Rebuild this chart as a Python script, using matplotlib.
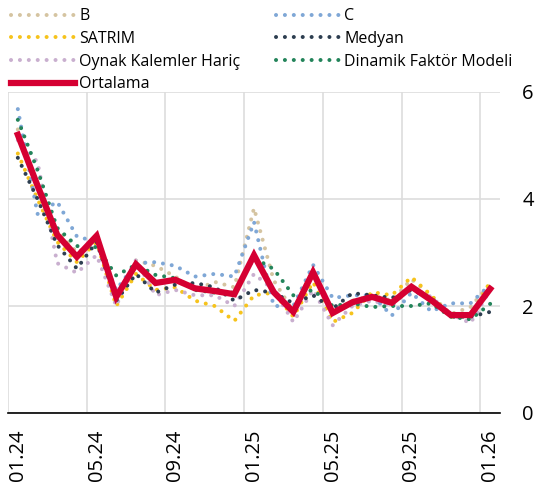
import numpy as np
import matplotlib.pyplot as plt
from matplotlib.lines import Line2D

plt.rcParams['font.family'] = ['Open Sans', 'DejaVu Sans']

# monthly data, 01.24 - 01.26
months = ['01.24', '02.24', '03.24', '04.24', '05.24', '06.24', '07.24', '08.24',
          '09.24', '10.24', '11.24', '12.24', '01.25', '02.25', '03.25', '04.25',
          '05.25', '06.25', '07.25', '08.25', '09.25', '10.25', '11.25', '12.25', '01.26']

b_vals = [5.30, 4.20, 3.45, 3.00, 3.20, 2.10, 2.85, 2.75, 2.55, 2.30, 2.45, 2.35, 3.83,
          2.48, 1.90, 2.60, 1.90, 2.10, 2.20, 2.10, 2.50, 2.20, 1.85, 1.98, 2.42]
c_vals = [5.68, 3.72, 3.95, 3.30, 3.20, 2.30, 2.80, 2.82, 2.75, 2.55, 2.60, 2.55, 3.57,
          2.00, 2.00, 2.77, 2.15, 2.20, 2.20, 1.82, 2.25, 1.90, 2.05, 2.05, 2.40]
satrim_vals = [4.85, 4.00, 3.20, 2.82, 3.20, 2.00, 2.60, 2.30, 2.35, 2.10, 2.00, 1.72, 2.20,
               2.25, 1.80, 2.45, 1.70, 1.87, 2.26, 2.20, 2.54, 2.20, 1.80, 1.80, 2.45]
medyan_vals = [4.77, 4.00, 3.14, 2.70, 3.20, 2.10, 2.60, 2.25, 2.40, 2.43, 2.35, 2.10, 2.30,
               2.25, 2.05, 2.20, 1.95, 2.24, 2.20, 2.15, 2.30, 2.15, 1.80, 1.80, 1.89]
oynak_vals = [5.10, 4.69, 2.80, 2.62, 2.95, 2.00, 2.86, 2.20, 2.30, 2.20, 2.20, 2.00, 2.60,
              2.30, 1.70, 2.30, 1.64, 2.00, 2.10, 2.00, 2.35, 2.17, 1.85, 1.68, 2.30]
dfm_vals = [5.48, 4.54, 3.46, 3.12, 3.10, 2.57, 2.77, 2.58, 2.52, 2.30, 2.25, 2.25, 2.90,
            2.69, 2.20, 2.30, 2.00, 2.05, 1.98, 2.00, 2.00, 2.05, 1.80, 1.75, 2.04]
ort_vals = [5.20, 4.25, 3.33, 2.92, 3.31, 2.17, 2.78, 2.43, 2.49, 2.33, 2.28, 2.22, 2.95,
            2.26, 1.89, 2.63, 1.87, 2.07, 2.17, 2.06, 2.36, 2.11, 1.83, 1.83, 2.32]

series = [
    ('B', b_vals, '#d5c4a1'),
    ('SATRIM', satrim_vals, '#f6c31c'),
    ('Oynak Kalemler Hariç', oynak_vals, '#c9afcf'),
    ('C', c_vals, '#7fa7d6'),
    ('Medyan', medyan_vals, '#2d3e50'),
    ('Dinamik Faktör Modeli', dfm_vals, '#23845a'),
]
red = '#d50032'

x = np.arange(len(months)) + 0.5

fig = plt.figure(figsize=(5.44, 4.87), dpi=100)
ax = fig.add_axes([8 / 544, 1 - 413 / 487, 492 / 544, 321 / 487])

dots = (0, (0.01, 2.2))
dot_lw = 2.9
handles = {}
for name, vals, col in series:
    ln, = ax.plot(x, vals, color=col, lw=dot_lw, linestyle=dots, dash_capstyle='round')
    handles[name] = ln
ln, = ax.plot(x, ort_vals, color=red, lw=4.5, solid_joinstyle='miter', zorder=5)
handles['Ortalama'] = ln

ax.set_xlim(0, 25)
ax.set_ylim(0, 6)

# gridlines at month starts, labels at mid-month
ax.set_xticks(np.arange(0, 25, 4))
ax.set_xticklabels([])
ax.set_xticks(np.arange(0, 25, 4) + 0.5, minor=True)
ax.set_xticklabels(months[::4], minor=True, rotation=90, fontsize=14.5)
ax.tick_params(axis='x', which='both', length=0)
ax.tick_params(axis='x', which='minor', pad=12)

ax.yaxis.tick_right()
ax.set_yticks([0, 2, 4, 6])
ax.tick_params(axis='y', length=0, pad=16, labelsize=14.5)

ax.grid(True, color='#dddddd', lw=1.2)
ax.set_axisbelow(True)
for s in ['top', 'right', 'left']:
    ax.spines[s].set_visible(False)
ax.spines['bottom'].set_linewidth(1.2)
ax.spines['bottom'].set_zorder(6)

order = ['B', 'SATRIM', 'Oynak Kalemler Hariç', 'Ortalama', 'C', 'Medyan', 'Dinamik Faktör Modeli']
leg_handles = []
for name in order:
    h = handles[name]
    if name == 'Ortalama':
        leg_handles.append(Line2D([], [], color=red, lw=4.5))
    else:
        leg_handles.append(Line2D([], [], color=h.get_color(), lw=dot_lw, linestyle=dots,
                                  dash_capstyle='round'))
fig.legend(leg_handles, order, ncol=2, loc='upper left', bbox_to_anchor=(0.008, 0.996),
           frameon=False, fontsize=11.5, handlelength=4.0, handletextpad=0.3,
           columnspacing=2.2, labelspacing=0.42, borderaxespad=0.0)

fig.savefig('out.png', dpi=100)
